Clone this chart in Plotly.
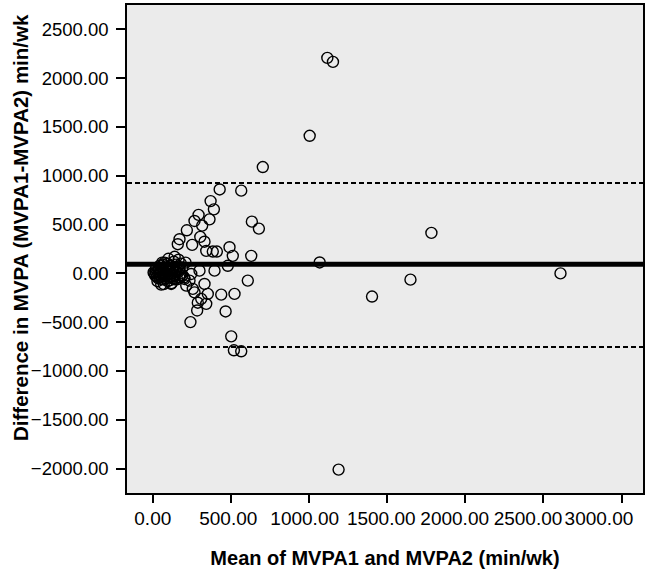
import plotly.graph_objects as go

# Bland-Altman data: mean of two measures (x) and their difference (y)
mean_vals = [
    10, 15, 20, 25, 30, 35, 40, 45, 50, 55, 60, 65, 70, 75, 80, 85, 90, 95,
    100, 105, 110, 115, 120, 125, 130, 135, 140, 145, 150, 155, 160, 165, 170,
    175, 180, 60, 100, 30, 20, 5, 120, 140, 70, 45, 180, 190, 200, 210,
    35, 55, 85, 110, 130, 150, 170, 65, 95, 125, 160, 190, 40, 75, 140,
    704, 428, 566, 370, 391, 293, 363, 267, 634, 679, 316, 218, 304, 171, 160,
    252, 331, 342, 384, 410, 491, 512, 630, 480, 395, 299, 246, 608, 203, 235,
    214, 256, 267, 331, 352, 438, 523, 310, 288, 342, 466, 284, 241, 502, 519,
    566, 54, 118, 1068, 1004, 1117, 1153, 1783, 1403, 1649, 2609, 1189,
]
diff_vals = [
    0, -20, 10, -30, 20, -10, 40, -40, 0, 30, -60, 50, 10, -20, 70, -50, 20, 100,
    -10, 40, -70, 80, 0, -30, 60, 120, -20, 30, 90, -60, 10, 140, 50,
    -20, 100, 110, 150, -80, 50, 10, -100, 170, -110, 80, 0, 60, -40, 110,
    -50, -30, 40, -40, -50, 20, -40, 90, -80, 30, 70, -20, 60, 110, -60,
    1090, 860, 848, 741, 656, 600, 554, 537, 530, 459, 490, 442, 374, 350, 299,
    292, 325, 231, 224, 224, 268, 180, 180, 78, 28, 28, -6, -74, -57, -74,
    -125, -159, -194, -108, -210, -217, -210, -261, -300, -312, -390, -380, -499, -645, -788,
    -798, -115, -108, 112, 1410, 2208, 2167, 415, -237, -64, 0, -2010,
]

mean_diff = 95
upper_loa = 927
lower_loa = -754

x_ticks = [0, 500, 1000, 1500, 2000, 2500, 3000]
x_tick_labels = ["0.00", "500.00", "1000.00", "1500.00", "2000.00", "2500.00", "3000.00"]
x_label_pos = [0, 483, 972, 1462, 1932, 2401, 2855]
y_ticks = [-2000, -1500, -1000, -500, 0, 500, 1000, 1500, 2000, 2500]

x_range = [-165, 3137]
y_range = [-2250, 2750]

fig = go.Figure()
fig.add_trace(go.Scatter(
    x=mean_vals, y=diff_vals, mode="markers",
    marker=dict(symbol="circle-open", size=11, color="black",
                line=dict(color="black", width=1.4)),
    showlegend=False, hoverinfo="x+y",
))

fig.add_shape(type="line", xref="paper", yref="y", x0=0, x1=1,
              y0=mean_diff, y1=mean_diff, line=dict(color="black", width=5),
              layer="above")
for v in (upper_loa, lower_loa):
    fig.add_shape(type="line", xref="paper", yref="y", x0=0, x1=1,
                  y0=v, y1=v, line=dict(color="black", width=2, dash="5px,3px"),
                  layer="above")

font_family = "Liberation Sans, Arial, Helvetica, sans-serif"
fig.update_layout(
    width=650, height=571,
    margin=dict(l=127, r=7, t=3, b=78),
    paper_bgcolor="white",
    plot_bgcolor="#EBEBEB",
    font=dict(family=font_family, color="black", size=18),
    xaxis=dict(
        range=x_range, tickvals=x_ticks, showticklabels=False,
        ticks="outside", ticklen=8, tickwidth=1.5, tickcolor="black",
        showgrid=False, zeroline=False,
        showline=True, linecolor="black", linewidth=1.5, mirror=True,
    ),
    xaxis2=dict(
        range=x_range, overlaying="x", anchor="y", side="bottom",
        tickvals=x_label_pos, ticktext=x_tick_labels,
        ticks="outside", ticklen=8, tickcolor="rgba(0,0,0,0)",
        showgrid=False, zeroline=False, showline=False,
        tickfont=dict(size=19),
        title=dict(text="<b>Mean of MVPA1 and MVPA2 (min/wk)</b>",
                   font=dict(size=20), standoff=23),
    ),
    yaxis=dict(
        range=y_range, tickvals=y_ticks, tickformat=".2f",
        ticks="outside", ticklen=9, tickwidth=1.5, tickcolor="black",
        showgrid=False, zeroline=False,
        showline=True, linecolor="black", linewidth=1.5, mirror=True,
        ticklabelstandoff=4,
        tickfont=dict(size=18.5),
    ),
    annotations=[dict(
        text="<b>Difference in MVPA (MVPA1-MVPA2) min/wk</b>",
        xref="paper", yref="paper", x=0, y=0.543, xshift=-107,
        xanchor="center", yanchor="middle", textangle=-90,
        showarrow=False, font=dict(size=20.5),
    )],
)

# invisible helper trace so xaxis2 is rendered
fig.add_trace(go.Scatter(x=[None], y=[None], xaxis="x2", yaxis="y",
                         showlegend=False, hoverinfo="skip"))

fig.write_html("out.html", config={"displayModeBar": False},
               post_script="document.body.style.margin='0';")
